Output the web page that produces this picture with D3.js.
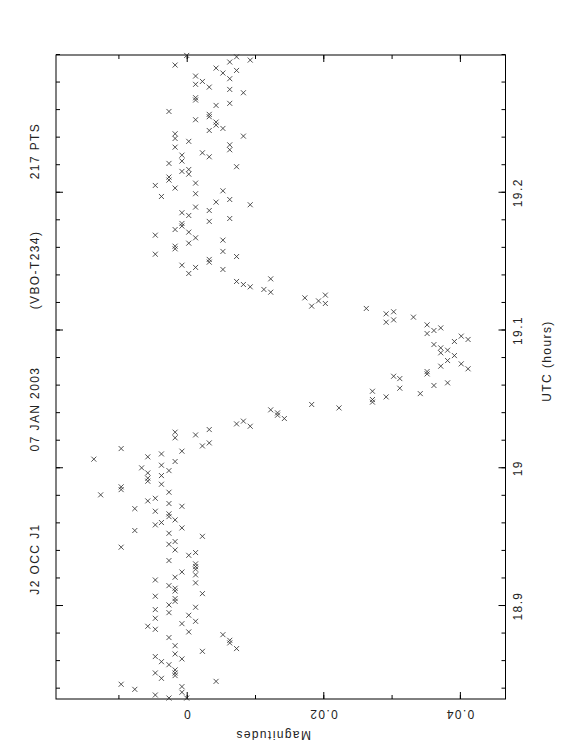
<!DOCTYPE html>
<html>
<head>
<meta charset="utf-8">
<script src="https://cdn.jsdelivr.net/npm/d3@7"></script>
<style>
    body { margin: 0; background: #fff; }
    text { font-family: "Liberation Sans", Arial, sans-serif; fill: #222; }
</style>
</head>
<body>
<div id="chart"></div>
<script>
    var utc = [
        19.2997, 19.2987, 19.2963, 19.2949, 19.2927, 19.2905, 19.2888, 19.2869, 19.2847, 19.2828,
        19.2808, 19.2787, 19.2767, 19.2750, 19.2726, 19.2690, 19.2673, 19.2634, 19.2649, 19.2590,
        19.2530, 19.2569, 19.2552, 19.2513, 19.2491, 19.2467, 19.2452, 19.2428, 19.2394, 19.2373,
        19.2411, 19.2348, 19.2312, 19.2331, 19.2290, 19.2273, 19.2261,
        19.2230, 19.2213, 19.2189, 19.2155, 19.2169, 19.2135, 19.2114, 19.2092, 19.2070, 19.2053,
        19.2034, 19.2014, 19.1993, 19.1973, 19.1951, 19.1932, 19.1913, 19.1896, 19.1871, 19.1855,
        19.1835, 19.1813, 19.1792, 19.1777, 19.1758, 19.1733, 19.1714, 19.1692, 19.1673, 19.1656,
        19.1634, 19.1612, 19.1593, 19.1574, 19.1554, 19.1537, 19.1516, 19.1496, 19.1474, 19.1458, 19.1443,
        19.1414, 19.1356, 19.1334, 19.1317, 19.1375, 19.1298, 19.1278, 19.1237, 19.1177, 19.1215,
        19.1257, 19.1196, 19.1160, 19.1121, 19.1136, 19.1060, 19.1077, 19.1097, 19.1041, 19.0978,
        19.1000, 19.1019, 19.0898, 19.0874, 19.0838, 19.0857, 19.0920, 19.0959, 19.0935, 19.0782,
        19.0818, 19.0741, 19.0758, 19.0722, 19.0668, 19.0651, 19.0702, 19.0685,
        19.0581, 19.0559, 19.0499, 19.0480, 19.0518, 19.0542, 19.0601, 19.0620, 19.0463, 19.0438,
        19.0424, 19.0402, 19.0385, 19.0361, 19.0322, 19.0342, 19.0305, 19.0281, 19.0242, 19.0262,
        19.0221, 19.0162, 19.0184, 19.0124, 19.0143, 19.0066, 19.0104, 19.0083, 19.0049, 19.0022,
        19.0003, 18.9983, 18.9966, 18.9947, 18.9928, 18.9906, 18.9884, 18.9865,
        18.9845, 18.9826, 18.9807, 18.9782, 18.9763, 18.9744, 18.9724, 18.9707, 18.9688, 18.9669,
        18.9649, 18.9625, 18.9606, 18.9589, 18.9567, 18.9548, 18.9528, 18.9506, 18.9468, 18.9448,
        18.9427, 18.9407, 18.9388, 18.9368, 18.9330, 18.9306, 18.9286, 18.9267, 18.9247, 18.9226,
        18.9209, 18.9189, 18.9168, 18.9148, 18.9129, 18.9109, 18.9090, 18.9071,
        18.9054, 18.9034, 18.9008, 18.8991, 18.8974, 18.8952, 18.8933, 18.8911, 18.8889, 18.8872,
        18.8853, 18.8831, 18.8812, 18.8792, 18.8771, 18.8751, 18.8732, 18.8712, 18.8691, 18.8671,
        18.8652, 18.8633, 18.8616, 18.8596, 18.8574, 18.8536, 18.8514, 18.8495, 18.8514, 18.8475,
        18.8453, 18.8432, 18.8395, 18.8415, 18.8374, 18.8354, 18.8332, 18.8332
    ];

    // magnitude of each observation (same order as utc)
    var mag = [
        0.0000, 0.0073, 0.0093, 0.0063, -0.0017, 0.0043, 0.0073, 0.0053, 0.0013, 0.0063,
        0.0023, 0.0013, 0.0033, 0.0063, 0.0083, 0.0013, 0.0013, 0.0043, 0.0063, -0.0026,
        0.0013, 0.0033, 0.0033, 0.0043, 0.0043, 0.0053, 0.0033, -0.0017, -0.0017, 0.0003,
        0.0083, 0.0063, 0.0063, -0.0017, 0.0023, -0.0007, 0.0033,
        -0.0007, -0.0026, 0.0073, -0.0007, 0.0003, 0.0003, -0.0026, -0.0026, 0.0013, -0.0046,
        -0.0017, 0.0053, 0.0013, -0.0037, 0.0063, 0.0043, 0.0093, 0.0013, 0.0033, -0.0007,
        0.0003, 0.0063, 0.0033, -0.0007, -0.0007, -0.0017, 0.0003, -0.0046, 0.0013, 0.0053,
        0.0003, -0.0017, -0.0017, 0.0053, -0.0046, 0.0073, 0.0033, 0.0033, -0.0007, 0.0013, 0.0053,
        0.0003, 0.0073, 0.0083, 0.0093, 0.0123, 0.0113, 0.0123, 0.0173, 0.0183, 0.0193,
        0.0203, 0.0203, 0.0263, 0.0292, 0.0303, 0.0292, 0.0303, 0.0332, 0.0352, 0.0352,
        0.0362, 0.0372, 0.0362, 0.0372, 0.0372, 0.0382, 0.0392, 0.0402, 0.0412, 0.0382,
        0.0392, 0.0372, 0.0402, 0.0412, 0.0303, 0.0312, 0.0352, 0.0352,
        0.0312, 0.0272, 0.0272, 0.0272, 0.0292, 0.0342, 0.0362, 0.0382, 0.0183, 0.0223,
        0.0123, 0.0133, 0.0133, 0.0143, 0.0073, 0.0083, 0.0093, 0.0033, 0.0013, -0.0017,
        -0.0017, 0.0023, 0.0033, -0.0007, -0.0096, -0.0136, -0.0037, -0.0057, -0.0017, -0.0037,
        -0.0066, -0.0026, -0.0057, -0.0037, -0.0057, -0.0057, -0.0037, -0.0096,
        -0.0096, -0.0026, -0.0126, -0.0046, -0.0057, -0.0026, -0.0007, -0.0076, -0.0046, -0.0026,
        -0.0026, -0.0017, -0.0037, -0.0046, -0.0007, -0.0076, -0.0026, 0.0023, -0.0017, -0.0026,
        -0.0096, -0.0017, 0.0013, 0.0003, -0.0026, 0.0013, 0.0013, 0.0013, -0.0007, 0.0013,
        -0.0017, -0.0046, 0.0013, -0.0026, -0.0017, -0.0017, 0.0023, -0.0046,
        -0.0017, -0.0017, -0.0026, 0.0013, -0.0046, -0.0026, 0.0003, -0.0046, 0.0013, -0.0007,
        -0.0057, -0.0046, 0.0003, 0.0053, -0.0026, 0.0063, 0.0063, -0.0017, 0.0073, 0.0023,
        -0.0017, -0.0046, -0.0007, -0.0037, -0.0026, -0.0017, -0.0017, -0.0017, -0.0046, -0.0037,
        0.0043, -0.0096, -0.0076, -0.0007, -0.0007, -0.0046, -0.0026, 0.0000
    ];

    var utcLabels = [18.9, 19, 19.1, 19.2];
    var magLabels = [0, 0.02, 0.04];
    var titleParts = ["J2 OCC J1", "07 JAN 2003", "(VBO-T234)", "217 PTS"];

    var W = 562, H = 756;

    var svg = d3.select("#chart").append("svg")
        .attr("width", W)
        .attr("height", H);

    // the plot is laid out landscape (756 x 562) and turned a quarter to the left
    var g = svg.append("g")
        .attr("transform", "translate(0," + H + ") rotate(-90)");

    var frame = {left: 57, right: 701, top: 56, bottom: 505.5};

    var x = d3.scaleLinear().domain([18.8325, 19.3]).range([frame.left, frame.right]);
    var y = d3.scaleLinear().domain([-0.01914, 0.04668]).range([frame.top, frame.bottom]);

    var utcMinor = d3.range(942, 966).map(function(i) { return i / 50; });
    var magMinor = d3.range(-1, 5).map(function(i) { return i / 100; });

    function ticks(axis, values, size) {
        return axis.tickValues(values).tickSize(-size).tickSizeOuter(0).tickFormat("");
    }

    // ticks point inward on every side
    [[d3.axisBottom, frame.bottom], [d3.axisTop, frame.top]].forEach(function(a) {
        var ax = g.append("g").attr("transform", "translate(0," + a[1] + ")");
        ax.call(ticks(a[0](x), utcMinor, 4));
        ax.append("g").call(ticks(a[0](x), utcLabels, 7));
        ax.selectAll(".domain").remove();
    });
    [[d3.axisLeft, frame.left], [d3.axisRight, frame.right]].forEach(function(a) {
        var ax = g.append("g").attr("transform", "translate(" + a[1] + ",0)");
        ax.call(ticks(a[0](y), magMinor, 4));
        ax.append("g").call(ticks(a[0](y), magLabels, 7));
        ax.selectAll(".domain").remove();
    });
    g.selectAll(".tick line").attr("stroke", "#000").attr("stroke-width", 1);

    g.append("rect")
        .attr("x", frame.left)
        .attr("y", frame.top)
        .attr("width", frame.right - frame.left)
        .attr("height", frame.bottom - frame.top)
        .attr("fill", "none")
        .attr("stroke", "#000")
        .attr("stroke-width", 1);

    // points
    var cross = "M-2.5,-2.5L2.5,2.5M-2.5,2.5L2.5,-2.5";
    g.selectAll(".pt")
        .data(d3.range(utc.length))
        .enter().append("path")
        .attr("class", "pt")
        .attr("d", cross)
        .attr("transform", function(i) { return "translate(" + x(utc[i]) + "," + y(mag[i]) + ")"; })
        .attr("fill", "none")
        .attr("stroke", "#333")
        .attr("stroke-width", 0.85);

    var fontSize = 12, spacing = 1.4;

    g.selectAll(".utcLab")
        .data(utcLabels)
        .enter().append("text")
        .attr("x", function(d) { return x(d); })
        .attr("y", 518)
        .attr("dy", "0.35em")
        .attr("text-anchor", "middle")
        .style("font-size", fontSize + "px")
        .style("letter-spacing", spacing + "px")
        .text(function(d) { return d; });

    g.selectAll(".magLab")
        .data(magLabels)
        .enter().append("text")
        .attr("transform", function(d) { return "translate(42," + y(d) + ") rotate(-90)"; })
        .attr("dy", "0.35em")
        .attr("text-anchor", "middle")
        .style("font-size", fontSize + "px")
        .style("letter-spacing", spacing + "px")
        .text(function(d) { return d; });

    g.append("text")
        .attr("x", 395)
        .attr("y", 547)
        .attr("dy", "0.35em")
        .attr("text-anchor", "middle")
        .style("font-size", fontSize + "px")
        .style("letter-spacing", spacing + "px")
        .text("UTC (hours)");

    g.append("text")
        .attr("transform", "translate(21,273) rotate(-90)")
        .attr("dy", "0.35em")
        .attr("text-anchor", "middle")
        .style("font-size", fontSize + "px")
        .style("letter-spacing", spacing + "px")
        .text("Magnitudes");

    // title line above the frame
    var titleX = [197, 347, 486, 605];
    g.selectAll(".title")
        .data(titleParts)
        .enter().append("text")
        .attr("x", function(d, i) { return titleX[i]; })
        .attr("y", 35)
        .attr("dy", "0.35em")
        .attr("text-anchor", "middle")
        .style("font-size", fontSize + "px")
        .style("letter-spacing", spacing + "px")
        .text(function(d) { return d; });
</script>
</body>
</html>
